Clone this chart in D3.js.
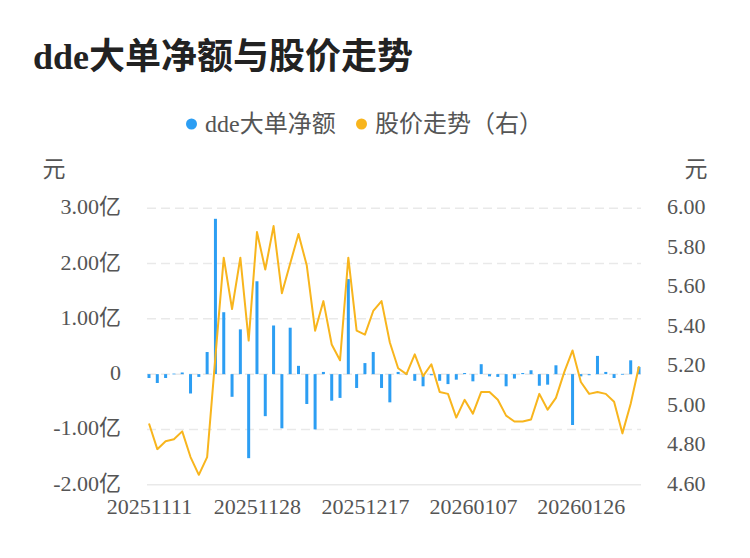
<!DOCTYPE html>
<html>
<head>
<meta charset="utf-8">
<script src="https://cdn.jsdelivr.net/npm/d3@7/dist/d3.min.js"></script>
<style>
  html, body { margin: 0; padding: 0; background: #fff; }
  svg text { font-family: "Liberation Serif", "Noto Sans CJK SC", serif; }
</style>
</head>
<body>
<svg id="chart" width="750" height="558"></svg>
<script>
var dates = [
  '20251111', '20251112', '20251113', '20251114', '20251117', '20251118', '20251119', '20251120', '20251121', '20251124',
  '20251125', '20251126', '20251127', '20251128', '20251201', '20251202', '20251203', '20251204', '20251205', '20251208',
  '20251209', '20251210', '20251211', '20251212', '20251215', '20251216', '20251217', '20251218', '20251219', '20251222',
  '20251223', '20251224', '20251225', '20251226', '20251229', '20251230', '20251231', '20260105', '20260106', '20260107',
  '20260108', '20260109', '20260112', '20260113', '20260114', '20260115', '20260116', '20260119', '20260120', '20260121',
  '20260122', '20260123', '20260126', '20260127', '20260128', '20260129', '20260130', '20260202', '20260203', '20260204'
];

// dde net large-order amount, unit: 亿元
var ddeValues = [
  -0.07, -0.16, -0.07, 0.01, 0.03, -0.35, -0.05, 0.40, 2.81, 1.12,
  -0.41, 0.81, -1.52, 1.68, -0.76, 0.88, -0.98, 0.84, 0.15, -0.54,
  -1.00, 0.04, -0.48, -0.43, 1.72, -0.25, 0.20, 0.40, -0.25, -0.51,
  0.04, 0.01, -0.12, -0.22, -0.02, -0.12, -0.18, -0.10, 0.02, -0.13,
  0.18, -0.04, -0.05, -0.22, -0.08, 0.02, 0.07, -0.21, -0.19, 0.16,
  0.005, -0.92, -0.04, -0.02, 0.33, 0.04, -0.07, 0.005, 0.25, 0.13
];

// closing price, unit: 元
var prices = [
  4.91, 4.78, 4.82, 4.83, 4.87, 4.74, 4.65, 4.74, 5.25, 5.75,
  5.49, 5.75, 5.33, 5.88, 5.69, 5.91, 5.57, 5.72, 5.87, 5.71,
  5.38, 5.53, 5.31, 5.23, 5.75, 5.38, 5.36, 5.48, 5.53, 5.32,
  5.19, 5.16, 5.26, 5.15, 5.21, 5.07, 5.06, 4.94, 5.03, 4.96,
  5.07, 5.07, 5.03, 4.95, 4.92, 4.92, 4.93, 5.06, 4.98, 5.04,
  5.17, 5.28, 5.12, 5.06, 5.07, 5.06, 5.02, 4.86, 5.01, 5.20
];

var leftTicks = [-2, -1, 0, 1, 2, 3];
var rightTicks = [4.6, 4.8, 5.0, 5.2, 5.4, 5.6, 5.8, 6.0];
var xTickLabels = ['20251111', '20251128', '20251217', '20260107', '20260126'];
var seriesNames = ['dde大单净额', '股价走势（右）'];

var BLUE = '#2c9ef3';
var ORANGE = '#f8b51d';
var TEXT = '#555';

var svg = d3.select('#chart');
var plotTop = 208.3, plotBottom = 484.7, plotLeft = 147, plotRight = 641;

var x = d3.scalePoint().domain(dates).range([149, 639]);
var yLeft = d3.scaleLinear().domain([-2, 3]).range([plotBottom, plotTop]);
var yRight = d3.scaleLinear().domain([4.6, 6.0]).range([plotBottom, plotTop]);

// title
svg.append('text')
  .attr('x', 33)
  .attr('y', 69)
  .attr('font-size', 36)
  .attr('font-weight', 'bold')
  .attr('fill', '#222')
  .text('dde大单净额与股价走势');

// legend
var legend = svg.append('g');
var legendItems = [
  { name: seriesNames[0], color: BLUE, cx: 191.5, tx: 205 },
  { name: seriesNames[1], color: ORANGE, cx: 361.5, tx: 375 }
];
legendItems.forEach(function (item) {
  legend.append('circle')
    .attr('cx', item.cx)
    .attr('cy', 124)
    .attr('r', 5.5)
    .attr('fill', item.color);
  legend.append('text')
    .attr('x', item.tx)
    .attr('y', 124)
    .attr('dy', '0.35em')
    .attr('font-size', 24)
    .attr('fill', TEXT)
    .text(item.name);
});

// axis names
svg.append('text')
  .attr('x', 54).attr('y', 169).attr('dy', '0.35em')
  .attr('text-anchor', 'middle')
  .attr('font-size', 23).attr('fill', TEXT)
  .text('元');
svg.append('text')
  .attr('x', 696).attr('y', 169).attr('dy', '0.35em')
  .attr('text-anchor', 'middle')
  .attr('font-size', 23).attr('fill', TEXT)
  .text('元');

// grid lines
svg.append('g')
  .selectAll('line')
  .data(leftTicks)
  .enter()
  .append('line')
  .attr('x1', plotLeft)
  .attr('x2', plotRight)
  .attr('y1', yLeft)
  .attr('y2', yLeft)
  .attr('stroke', '#e9e9e9')
  .attr('stroke-width', 1.5)
  .attr('stroke-dasharray', function (d) { return d === -2 ? null : '9,5'; });

// left axis
var leftAxis = d3.axisLeft(yLeft)
  .tickValues(leftTicks)
  .tickSize(0)
  .tickPadding(0)
  .tickFormat(function (d) { return d === 0 ? '0' : d.toFixed(2) + '亿'; });
var gl = svg.append('g')
  .attr('transform', 'translate(121,0)')
  .call(leftAxis);

// right axis
var rightAxis = d3.axisRight(yRight)
  .tickValues(rightTicks)
  .tickSize(0)
  .tickPadding(0)
  .tickFormat(function (d) { return d.toFixed(2); });
var gr = svg.append('g')
  .attr('transform', 'translate(667,0)')
  .call(rightAxis);

// bottom axis
var bottomAxis = d3.axisBottom(x)
  .tickValues(xTickLabels)
  .tickSize(0)
  .tickPadding(0);
var gb = svg.append('g')
  .attr('transform', 'translate(0,498)')
  .call(bottomAxis);

[gl, gr, gb].forEach(function (g) {
  g.select('.domain').remove();
  g.selectAll('text')
    .attr('font-size', 22)
    .attr('fill', TEXT)
    .style('font-family', '"Liberation Serif", "Noto Sans CJK SC", serif');
});
gl.selectAll('text').attr('dy', '0.25em');
gr.selectAll('text').attr('dy', '0.25em');
gb.selectAll('text').attr('dy', '0.71em');

// bars
var barWidth = 3;
svg.append('g')
  .selectAll('rect')
  .data(ddeValues)
  .enter()
  .append('rect')
  .attr('x', function (d, i) { return x(dates[i]) - barWidth / 2; })
  .attr('y', function (d) { return yLeft(Math.max(0, d)); })
  .attr('width', barWidth)
  .attr('height', function (d) { return Math.max(0.8, Math.abs(yLeft(d) - yLeft(0))); })
  .attr('fill', BLUE);

// price line
var line = d3.line()
  .x(function (d, i) { return x(dates[i]); })
  .y(function (d) { return yRight(d); });

svg.append('path')
  .datum(prices)
  .attr('d', line)
  .attr('fill', 'none')
  .attr('stroke', ORANGE)
  .attr('stroke-width', 2)
  .attr('stroke-linejoin', 'round');
</script>
</body>
</html>
